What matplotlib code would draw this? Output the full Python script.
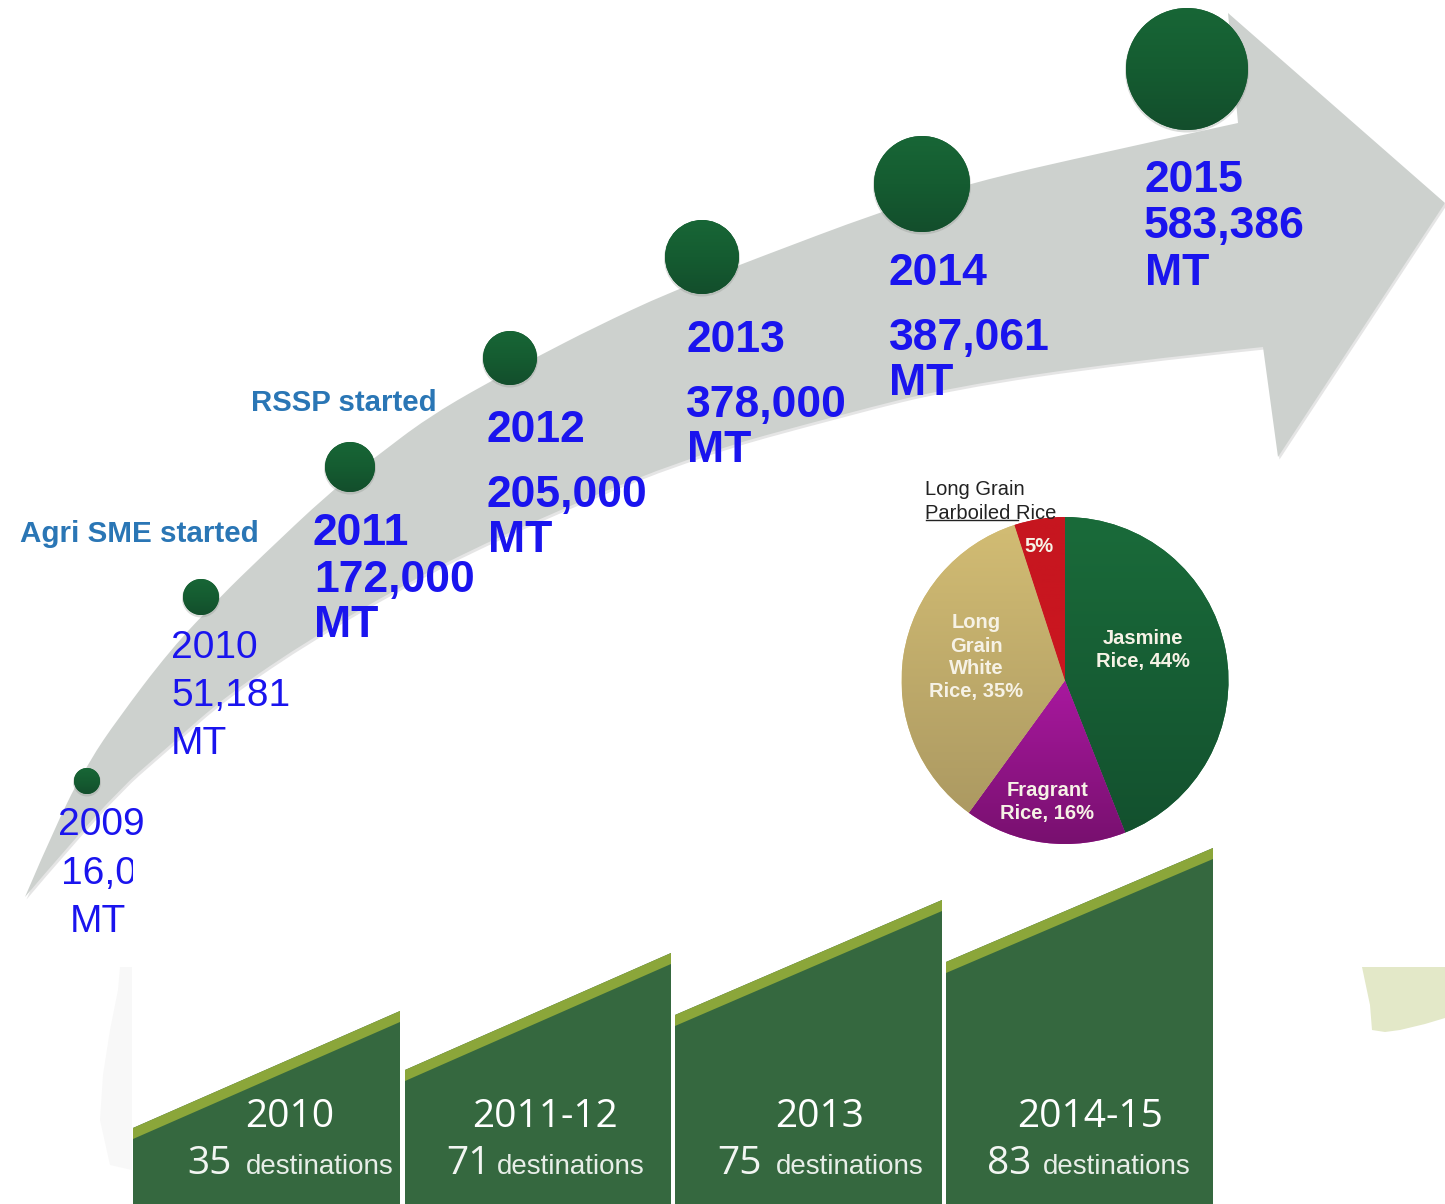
import numpy as np
import matplotlib
matplotlib.use("Agg")
import matplotlib.pyplot as plt
from matplotlib.path import Path
from matplotlib.patches import PathPatch, Polygon, Circle, Rectangle
from matplotlib.colors import LinearSegmentedColormap

W, H = 1445, 1204
SANS = "Liberation Sans"

# data
years = ["2009", "2010", "2011", "2012", "2013", "2014", "2015"]
volumes = ["16,0", "51,181", "172,000", "205,000", "378,000", "387,061", "583,386"]
unit = "MT"
milestones = ["Agri SME started", "RSSP started"]

pie_values = [44, 16, 35, 5]
pie_labels = [["Jasmine", "Rice, 44%"], ["Fragrant", "Rice, 16%"],
              ["Long", "Grain", "White", "Rice, 35%"], ["5%"]]
pie_outside = ["Long Grain", "Parboiled Rice"]

dest_years = ["2010", "2011-12", "2013", "2014-15"]
dest_counts = ["35", "71", "75", "83"]
dest_word = "destinations"

# layout, in reference pixels
circle_xy = [(87, 781), (201, 597), (350, 467), (510, 358), (702, 257), (922, 184), (1187, 69)]
circle_r = [13, 18, 25, 27, 37, 48, 61]
label_x = [[58, 61, 70], [171, 171, 171], [313, 314, 314], [487, 487, 488],
           [686, 686, 687], [889, 889, 889], [1144, 1144, 1145]]
label_base = [[835, 884, 932], [658, 706, 754], [545, 592, 637], [442, 507, 552],
              [352, 417, 462], [285, 350, 395], [192, 238, 285]]
upper_edge = [(25, 897), (60, 815), (90, 760), (117, 720), (170, 650), (220, 597), (260, 558), (330, 492),
              (377, 456), (427, 418), (487, 383), (537, 357), (593, 328), (670, 292), (760, 257),
              (877, 213), (970, 183), (1100, 153), (1238, 123)]
head = [(1228, 13), (1445, 203), (1278, 457), (1263, 347)]
lower_edge = [(1263, 347), (1120, 362), (952, 387), (847, 413), (683, 458), (490, 540), (400, 587),
              (313, 637), (227, 695), (170, 745), (107, 800), (25, 897)]
panel_x = [(133, 400), (405, 671), (675, 942), (946, 1213)]
panel_top = [(1128, 1011), (1070, 953), (1015, 900), (962, 848)]
year_cx = [290, 545, 820, 1090]
count_x = [187, 446, 717, 987]
word_x = [246, 497, 776, 1043]
pie_cx, pie_cy, pie_r = 1065, 680.5, 163.5
pie_text_cx = [1143, 1047, 976, 1039]
pie_text_y = [[638, 662], [790, 814], [622, 646, 668, 692], [547]]
pie_colors = [("#1a6b3a", "#13502e"), ("#a9189f", "#78106f"), ("#d3bd74", "#a89660"), ("#c6161f", "#cb1620")]
pie_span = [(-1, 1), (-1, 0), (-1, 1), (0, 1)]

BLUE = "#1a14ee"
TEAL = "#2a76b5"


def edge_codes(points):
    # quadratic pieces through the midpoints keeps the edge smooth
    pts = np.array(points, dtype=float)
    verts, codes = [], []
    for i in range(1, len(pts) - 1):
        end = pts[i + 1] if i == len(pts) - 2 else (pts[i] + pts[i + 1]) / 2
        verts += [pts[i], end]
        codes += [Path.CURVE3, Path.CURVE3]
    return verts, codes


fig = plt.figure(figsize=(W / 100, H / 100), dpi=100, facecolor="white")

# pie sits under the main axes so its texts can go on top
pie_ax = fig.add_axes([(pie_cx - pie_r) / W, 1 - (pie_cy + pie_r) / H, 2 * pie_r / W, 2 * pie_r / H])
wedges, _ = pie_ax.pie(pie_values, startangle=90, counterclock=False, radius=1,
                       colors=[c[0] for c in pie_colors], frame=False)
grad = np.linspace(0, 1, 256).reshape(-1, 1)
for wedge, (top, bottom), (lo, hi) in zip(wedges, pie_colors, pie_span):
    cmap = LinearSegmentedColormap.from_list("w", [top, bottom])
    im = pie_ax.imshow(grad, extent=(-1, 1, lo, hi), cmap=cmap, aspect="auto", zorder=3)
    im.set_clip_path(wedge)
pie_ax.set_xlim(-1, 1)
pie_ax.set_ylim(-1, 1)
pie_ax.axis("off")

ax = fig.add_axes([0, 0, 1, 1], zorder=2)
ax.patch.set_visible(False)
ax.axis("off")

# faded map remnants behind the panels
ax.add_patch(Polygon([(120, 967), (132, 967), (132, 1170), (110, 1165), (100, 1120), (103, 1075),
                      (110, 1030), (118, 990)], fc="#f8f8f8", ec="none"))
ax.add_patch(Polygon([(1362, 967), (1445, 967), (1445, 1018), (1425, 1024), (1400, 1030),
                      (1385, 1032), (1372, 1030), (1370, 1005)], fc="#e3e8c8", ec="none"))

# arrow
v1, c1 = edge_codes(upper_edge)
v2, c2 = edge_codes(lower_edge)
verts = [upper_edge[0]] + v1 + head + v2
codes = [Path.MOVETO] + c1 + [Path.LINETO] * len(head) + c2
shadow = [(x + 1.5, y + 2.5) for x, y in verts]
ax.add_patch(PathPatch(Path(shadow, codes), fc="#a9a9a9", ec="none", alpha=0.3, zorder=1))
ax.add_patch(PathPatch(Path(verts, codes), fc="#cdd1ce", ec="none", zorder=2))

# growth circles
circle_map = LinearSegmentedColormap.from_list("c", ["#186636", "#155c31", "#134e2c"])
for (x, y), r in zip(circle_xy, circle_r):
    ax.add_patch(Circle((x, y + 1.5), r + 1, fc="#8a8f8a", ec="none", alpha=0.3, zorder=3))
    disc = Circle((x, y), r, fc="#155c31", ec="none", zorder=4)
    ax.add_patch(disc)
    im = ax.imshow(grad, extent=(x - r, x + r, y + r, y - r), cmap=circle_map, aspect="auto", zorder=5)
    im.set_clip_path(disc)

# tonnage labels
for i in range(len(years)):
    weight = "normal" if i < 2 else "bold"
    size = 28 if i < 2 else 32
    lines = [years[i], volumes[i], unit]
    for line, x, y in zip(lines, label_x[i], label_base[i]):
        ax.text(x, y, line, color=BLUE, fontsize=size, fontweight=weight, family=SANS,
                va="baseline", ha="left", zorder=6)

# the 2009 figure is cut off in the source
ax.add_patch(Rectangle((133, 846), 30, 50, fc="white", ec="none", zorder=7))

ax.text(20, 542, milestones[0], color=TEAL, fontsize=21.3, fontweight="bold", family=SANS, zorder=6)
ax.text(251, 411, milestones[1], color=TEAL, fontsize=21.2, fontweight="bold", family=SANS, zorder=6)

# pie texts
for lines, cx, ys in zip(pie_labels, pie_text_cx, pie_text_y):
    for line, y in zip(lines, ys):
        ax.text(cx, y, line, color="#f6f2e6", fontsize=14.5, fontweight="bold", family=SANS,
                ha="center", va="center", zorder=6)
ax.text(925, 495, pie_outside[0], color="#222222", fontsize=14.5, family=SANS, zorder=6)
ax.text(925, 519, pie_outside[1], color="#222222", fontsize=14.5, family=SANS, zorder=6)
ax.plot([926, 1018], [519.5, 519.5], color="#222222", lw=1, zorder=6)

# destination panels
for i in range(len(dest_years)):
    x0, x1 = panel_x[i]
    yl, yr = panel_top[i]
    ax.add_patch(Polygon([(x0, yl), (x1, yr), (x1, H), (x0, H)], fc="#35683f", ec="none", zorder=2))
    ax.add_patch(Polygon([(x0, yl), (x1, yr), (x1, yr + 11), (x0, yl + 11)], fc="#8ba63a", ec="none", zorder=3))
    ax.text(year_cx[i], 1127, dest_years[i], color="white", fontsize=28, family="Open Sans",
            ha="center", zorder=6)
    ax.text(count_x[i], 1174, dest_counts[i], color="#f2f5f2", fontsize=28, family="Open Sans", zorder=6)
    ax.text(word_x[i], 1174, dest_word, color="#e8eee8", fontsize=20, family=SANS, zorder=6)

ax.set_xlim(0, W)
ax.set_ylim(H, 0)

fig.savefig("out.png", dpi=100)
